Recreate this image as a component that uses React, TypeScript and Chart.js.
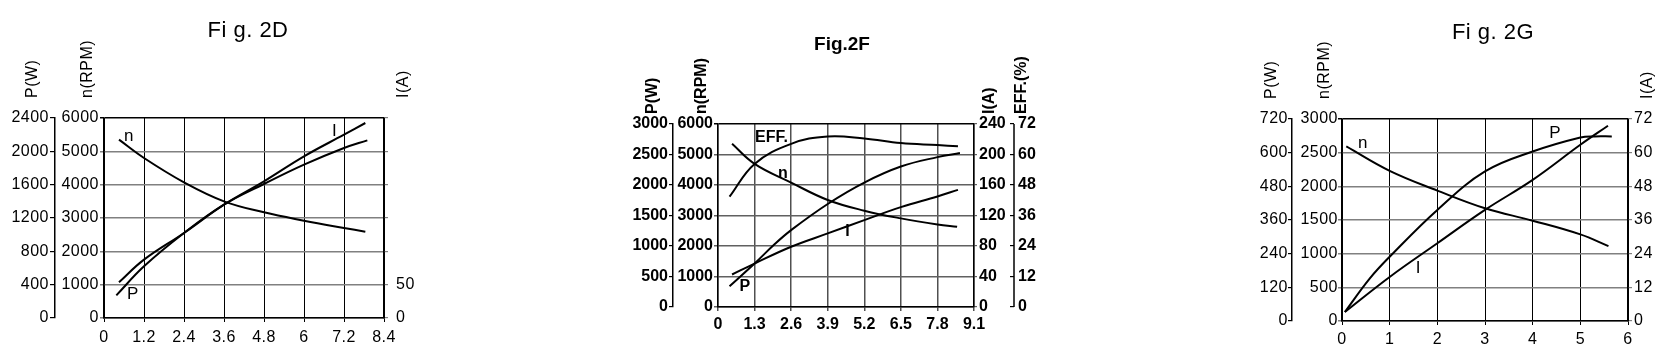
import React, { useEffect, useRef } from "react";
import { Chart, registerables } from "chart.js";
Chart.register(...registerables);

// ---------------- Fig. 2D ----------------
const dXTicks = [0, 1.2, 2.4, 3.6, 4.8, 6, 7.2, 8.4];
const dXLabels = ["0", "1.2", "2.4", "3.6", "4.8", "6", "7.2", "8.4"];
const dPTicks = [0, 400, 800, 1200, 1600, 2000, 2400];
const dNTicks = [0, 1000, 2000, 3000, 4000, 5000, 6000];
const dITicks = [0, 50, 100, 150, 200, 250, 300];
const dILabels = ["0", "50", "", "", "", "", ""];
const dNx = [0.45, 1.2, 2.4, 3.6, 4.8, 6, 7.2, 7.84];
const dN = [5350, 4800, 4070, 3500, 3170, 2920, 2700, 2590];
const dPx = [0.37, 1.2, 2.4, 3.6, 4.8, 6, 7.2, 7.9];
const dP = [272, 620, 1020, 1360, 1608, 1840, 2040, 2132];
const dIx = [0.45, 1.2, 2.4, 3.6, 4.8, 6, 7.2, 7.84];
const dI = [53.5, 87.5, 127.5, 170, 205, 242.5, 275, 292.5];

// ---------------- Fig. 2F ----------------
const fXTicks = [0, 1.3, 2.6, 3.9, 5.2, 6.5, 7.8, 9.1];
const fXLabels = ["0", "1.3", "2.6", "3.9", "5.2", "6.5", "7.8", "9.1"];
const fPTicks = [0, 500, 1000, 1500, 2000, 2500, 3000];
const fNTicks = [0, 1000, 2000, 3000, 4000, 5000, 6000];
const fITicks = [0, 40, 80, 120, 160, 200, 240];
const fETicks = [0, 12, 24, 36, 48, 60, 72];
const fEx = [0.41, 1.3, 2.6, 3.9, 5.2, 6.5, 7.8, 8.53];
const fE = [43.4, 56.3, 64.2, 67.1, 66.3, 64.5, 63.7, 63.2];
const fNx = [0.5, 1.3, 2.6, 3.9, 5.2, 6.5, 7.8, 8.5];
const fN = [5351, 4693, 4079, 3509, 3158, 2906, 2708, 2632];
const fPx = [0.41, 1.3, 2.0, 2.6, 3.9, 5.2, 6.5, 7.8, 8.6];
const fP = [340, 713, 1025, 1261, 1689, 2040, 2303, 2457, 2523];
const fIx = [0.5, 1.3, 2.6, 3.9, 5.2, 6.5, 7.8, 8.53];
const fI = [42.6, 57, 79, 96.5, 114, 131, 145, 153.6];

// ---------------- Fig. 2G ----------------
const gXTicks = [0, 1, 2, 3, 4, 5, 6];
const gXLabels = ["0", "1", "2", "3", "4", "5", "6"];
const gPTicks = [0, 120, 240, 360, 480, 600, 720];
const gNTicks = [0, 500, 1000, 1500, 2000, 2500, 3000];
const gITicks = [0, 12, 24, 36, 48, 60, 72];
const gNx = [0.09, 1, 2, 3, 4, 5, 5.59];
const gN = [2593, 2230, 1937, 1674, 1490, 1286, 1113];
const gPx = [0.06, 0.58, 1, 2, 3, 4, 5, 5.3, 5.66];
const gP = [32, 151, 229, 396, 533, 604, 654, 658, 658];
const gIx = [0.06, 1, 2, 3, 4, 5, 5.58];
const gI = [3.2, 15.7, 27.7, 39.6, 50.3, 62.8, 69.6];

const pts = (xs: number[], ys: number[]) => xs.map((x, i) => ({ x, y: ys[i] }));

const REG = '"Liberation Sans", Arial, sans-serif';

type AxisSpec = {
  id: string;
  position: "left" | "right";
  weight: number;
  ticks: number[];
  labels?: string[];
  width: number;
  tickLen: number;
  pad: number;
  grid?: boolean;
  tickColor: string;
  customBorder?: boolean;
};

type Panel = {
  left: number;
  width: number;
  padding: { left: number; top: number; right: number; bottom: number };
  bold: boolean;
  fontSize: number;
  spacing: string;
  title: string;
  titleFont: string;
  titleX: number;
  titleY: number;
  axisTitles: { text: string; x: number; y: number }[];
  axisTitleFont: string;
  curveLabels: { text: string; x: number; y: number }[];
  curveFont: string;
  xTicks: number[];
  xLabels: string[];
  xPad: number;
  axes: AxisSpec[];
  series: { axis: string; xs: number[]; ys: number[] }[];
  hGrid: string;
  vGrid: string;
  vGridWidth: number;
};

const panels: Panel[] = [
  {
    left: 0,
    width: 430,
    padding: { left: 0, top: 118, right: 6, bottom: 13 },
    bold: false,
    fontSize: 16,
    spacing: "0.5px",
    title: "Fi g. 2D",
    titleFont: `22px ${REG}`,
    titleX: 248,
    titleY: 37,
    axisTitles: [
      { text: "P(W)", x: 33, y: 98 },
      { text: "n(RPM)", x: 88, y: 98 },
      { text: "I(A)", x: 404, y: 98 },
    ],
    axisTitleFont: `16px ${REG}`,
    curveLabels: [
      { text: "n", x: 0.75, y: 5450 },
      { text: "P", x: 0.87, y: 700 },
      { text: "I", x: 6.92, y: 5600 },
    ],
    curveFont: `17px ${REG}`,
    xTicks: dXTicks,
    xLabels: dXLabels,
    xPad: 6,
    axes: [
      { id: "yP", position: "left", weight: 1, ticks: dPTicks, width: 55, tickLen: 5, pad: 1, tickColor: "#000" },
      { id: "yN", position: "left", weight: 0, ticks: dNTicks, width: 49, tickLen: 4, pad: 1, grid: true, tickColor: "#808080" },
      { id: "yI", position: "right", weight: 0, ticks: dITicks, labels: dILabels, width: 40, tickLen: 4, pad: 8, tickColor: "#808080" },
    ],
    series: [
      { axis: "yN", xs: dNx, ys: dN },
      { axis: "yP", xs: dPx, ys: dP },
      { axis: "yI", xs: dIx, ys: dI },
    ],
    hGrid: "#808080",
    vGrid: "#000",
    vGridWidth: 1,
  },
  {
    left: 620,
    width: 430,
    padding: { left: 0, top: 124, right: 10, bottom: 24 },
    bold: true,
    fontSize: 16,
    spacing: "0px",
    title: "Fig.2F",
    titleFont: `bold 19px ${REG}`,
    titleX: 222,
    titleY: 50,
    axisTitles: [
      { text: "P(W)", x: 33, y: 114 },
      { text: "n(RPM)", x: 82, y: 114 },
      { text: "I(A)", x: 370, y: 114 },
      { text: "EFF.(%)", x: 402, y: 114 },
    ],
    axisTitleFont: `bold 16px ${REG}`,
    curveLabels: [
      { text: "EFF.", x: 1.9, y: 5570 },
      { text: "n", x: 2.31, y: 4386 },
      { text: "P", x: 0.95, y: 680 },
      { text: "I", x: 4.6, y: 2467 },
    ],
    curveFont: `bold 16px ${REG}`,
    xTicks: fXTicks,
    xLabels: fXLabels,
    xPad: 4,
    axes: [
      { id: "yP", position: "left", weight: 1, ticks: fPTicks, width: 53, tickLen: 4, pad: 1, tickColor: "#000" },
      { id: "yN", position: "left", weight: 0, ticks: fNTicks, width: 45, tickLen: 4, pad: 1, grid: true, tickColor: "#606060" },
      { id: "yI", position: "right", weight: 0, ticks: fITicks, width: 36, tickLen: 3, pad: 2, tickColor: "#606060" },
      { id: "yE", position: "right", weight: 1, ticks: fETicks, width: 30, tickLen: 4, pad: 4, tickColor: "#000", customBorder: true },
    ],
    series: [
      { axis: "yE", xs: fEx, ys: fE },
      { axis: "yN", xs: fNx, ys: fN },
      { axis: "yP", xs: fPx, ys: fP },
      { axis: "yI", xs: fIx, ys: fI },
    ],
    hGrid: "#606060",
    vGrid: "#505050",
    vGridWidth: 1.5,
  },
  {
    left: 1240,
    width: 436,
    padding: { left: 0, top: 119, right: 8, bottom: 10 },
    bold: false,
    fontSize: 16,
    spacing: "0.5px",
    title: "Fi g. 2G",
    titleFont: `22px ${REG}`,
    titleX: 253,
    titleY: 39,
    axisTitles: [
      { text: "P(W)", x: 32, y: 99 },
      { text: "n(RPM)", x: 85, y: 99 },
      { text: "I(A)", x: 408, y: 99 },
    ],
    axisTitleFont: `16px ${REG}`,
    curveLabels: [
      { text: "n", x: 0.44, y: 2632 },
      { text: "P", x: 4.47, y: 2791 },
      { text: "I", x: 1.6, y: 780 },
    ],
    curveFont: `17px ${REG}`,
    xTicks: gXTicks,
    xLabels: gXLabels,
    xPad: 5,
    axes: [
      { id: "yP", position: "left", weight: 1, ticks: gPTicks, width: 52, tickLen: 4, pad: 0, tickColor: "#000" },
      { id: "yN", position: "left", weight: 0, ticks: gNTicks, width: 50, tickLen: 4, pad: 0, grid: true, tickColor: "#808080" },
      { id: "yI", position: "right", weight: 0, ticks: gITicks, width: 40, tickLen: 4, pad: 2, tickColor: "#808080" },
    ],
    series: [
      { axis: "yN", xs: gNx, ys: gN },
      { axis: "yP", xs: gPx, ys: gP },
      { axis: "yI", xs: gIx, ys: gI },
    ],
    hGrid: "#808080",
    vGrid: "#000",
    vGridWidth: 1,
  },
];

function buildConfig(p: Panel): any {
  const font = { family: REG, size: p.fontSize, weight: p.bold ? "bold" : "normal" };
  const scales: any = {
    x: {
      type: "linear",
      position: "bottom",
      min: p.xTicks[0],
      max: p.xTicks[p.xTicks.length - 1],
      afterBuildTicks: (s: any) => {
        s.ticks = p.xTicks.map((v) => ({ value: v }));
      },
      afterFit: (s: any) => {
        s.height = 30;
      },
      ticks: {
        autoSkip: false,
        maxRotation: 0,
        padding: p.xPad,
        color: "#000",
        font,
        callback: (_v: any, i: number) => p.xLabels[i],
      },
      grid: { color: p.vGrid, lineWidth: p.vGridWidth, tickLength: 4, drawOnChartArea: true },
      border: { display: true, color: "#000", width: 1.5 },
    },
  };
  for (const a of p.axes) {
    const maxV = a.ticks[a.ticks.length - 1];
    scales[a.id] = {
      type: "linear",
      position: a.position,
      weight: a.weight,
      min: a.ticks[0],
      max: maxV,
      afterBuildTicks: (s: any) => {
        s.ticks = a.ticks.map((v) => ({ value: v }));
      },
      afterFit: (s: any) => {
        s.width = a.width;
      },
      ticks: {
        autoSkip: false,
        padding: a.pad,
        color: "#000",
        font,
        callback: (v: any, i: number) => (a.labels ? a.labels[i] : String(a.ticks[i])),
      },
      grid: {
        drawOnChartArea: !!a.grid,
        tickLength: a.tickLen,
        lineWidth: a.grid ? 1.5 : 1.2,
        color: a.grid
          ? (c: any) => (c.tick && c.tick.value === maxV ? "#000" : p.hGrid)
          : a.tickColor,
      },
      border: { display: !a.customBorder, color: "#000", width: 1.5 },
    };
  }

  const decor = {
    id: "decor" + p.left,
    beforeDraw(chart: any) {
      try {
        chart.ctx.letterSpacing = p.spacing;
      } catch (e) {}
    },
    afterDraw(chart: any) {
      const ctx = chart.ctx;
      ctx.save();
      ctx.fillStyle = "#000";
      ctx.strokeStyle = "#000";
      // custom borders (tick on the left of the line)
      for (const a of p.axes) {
        if (!a.customBorder) continue;
        const s = chart.scales[a.id];
        const x = s.left + a.tickLen;
        ctx.lineWidth = 1.5;
        ctx.beginPath();
        ctx.moveTo(x, s.top);
        ctx.lineTo(x, s.bottom);
        ctx.stroke();
      }
      // title
      ctx.font = p.titleFont;
      ctx.textAlign = "center";
      ctx.textBaseline = "alphabetic";
      ctx.fillText(p.title, p.titleX, p.titleY);
      // axis titles (rotated)
      ctx.font = p.axisTitleFont;
      for (const t of p.axisTitles) {
        ctx.save();
        ctx.translate(t.x, t.y);
        ctx.rotate(-Math.PI / 2);
        ctx.textAlign = "left";
        ctx.textBaseline = "middle";
        ctx.fillText(t.text, 0, 0);
        ctx.restore();
      }
      // curve labels
      ctx.font = p.curveFont;
      ctx.textAlign = "center";
      ctx.textBaseline = "middle";
      const xs = chart.scales.x;
      const ys = chart.scales.yN;
      for (const l of p.curveLabels) {
        ctx.fillText(l.text, xs.getPixelForValue(l.x), ys.getPixelForValue(l.y));
      }
      ctx.restore();
    },
  };

  return {
    type: "line",
    data: {
      datasets: p.series.map((s) => ({
        data: pts(s.xs, s.ys),
        yAxisID: s.axis,
        borderColor: "#000",
        borderWidth: 2,
        pointRadius: 0,
        fill: false,
        tension: 0.4,
      })),
    },
    options: {
      responsive: false,
      animation: false,
      devicePixelRatio: 1,
      layout: { padding: p.padding },
      plugins: { legend: { display: false }, tooltip: { enabled: false }, title: { display: false } },
      scales,
    },
    plugins: [decor],
  };
}

function PanelChart({ p }: { p: Panel }) {
  const ref = useRef<HTMLCanvasElement | null>(null);
  useEffect(() => {
    if (!ref.current) return;
    const chart = new Chart(ref.current, buildConfig(p));
    return () => chart.destroy();
  }, [p]);
  return (
    <canvas
      ref={ref}
      width={p.width}
      height={361}
      style={{ position: "absolute", left: p.left, top: 0, width: p.width, height: 361 }}
    />
  );
}

export default function App() {
  return (
    <div style={{ position: "absolute", left: 0, top: 0, width: 1676, height: 361, background: "#fff", overflow: "hidden" }}>
      {panels.map((p) => (
        <PanelChart key={p.left} p={p} />
      ))}
    </div>
  );
}
